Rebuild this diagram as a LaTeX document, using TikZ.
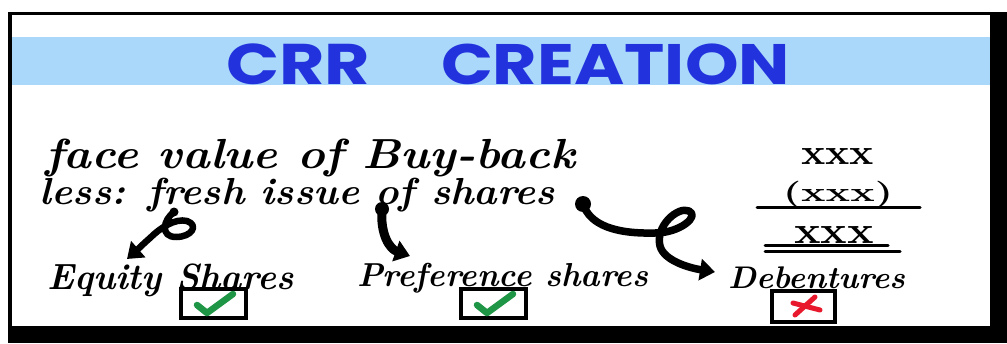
\documentclass[tikz,border=0pt]{standalone}
\usepackage{fontspec}
\newfontfamily\titlefont{Poppins}
\usetikzlibrary{arrows.meta}
\definecolor{band}{HTML}{A9D8FA}
\definecolor{ttl}{HTML}{2233DD}
\definecolor{okc}{HTML}{1E9645}
\definecolor{noc}{HTML}{E8192C}
\newcommand{\fitw}[3]{\resizebox*{#1}{#2}{#3}}
\tikzset{
  hand/.style={inner sep=0pt, outer sep=0pt, anchor=north west, font=\bfseries\itshape},
  nums/.style={inner sep=0pt, outer sep=0pt, anchor=north west, font=\bfseries\upshape},
  ttlnode/.style={inner sep=0pt, outer sep=0pt, anchor=north west, text=ttl, font=\titlefont\bfseries},
  arr/.style={line width=7.5pt, line cap=round, line join=round, -{Triangle[length=15pt,width=21pt]}},
  tickbox/.style={draw, line width=3.6pt, inner sep=0pt, minimum width=65pt, minimum height=29pt},
  okmark/.style={okc, line width=6.5pt, line cap=round, line join=round},
  nomark/.style={noc, line width=5pt, line cap=round},
  sumline/.style={line width=3pt, line cap=round}
}
\begin{document}
\begin{tikzpicture}[x=1pt,y=-1pt]
\useasboundingbox (0,0) rectangle (1007,343);
% frame
\fill[white] (0,0) rectangle (1007,343);
\fill[black] (990,12) rectangle (1007,343);
\fill[black] (8,326) rectangle (1007,343);
\draw[line width=3pt] (9,13) -- (995,13);
\draw[line width=3.5pt] (10,12) -- (10,330);
% title band
\fill[band] (12,37) rectangle (990,85);
\node[ttlnode] (t1) at (226,44) {\fitw{144pt}{41pt}{CRR}};
\node[ttlnode] (t2) at (441,44) {\fitw{349pt}{41pt}{CREATION}};
% text lines
\node[hand] (l1) at (45,139) {\fitw{530pt}{38pt}{face value of Buy-back}};
\node[hand] (l2) at (40,178) {\fitw{515pt}{34pt}{less: fresh issue of shares}};
% figures
\node[nums] (n1) at (801,148) {\fitw{73pt}{16pt}{xxx}};
\node[nums] (n2) at (783,181) {\fitw{110pt}{27pt}{(xxx)}};
\node[nums] (n3) at (794,226) {\fitw{80pt}{17pt}{xxx}};
\draw[sumline] (757,207) -- (920,207);
\draw[sumline] (765,245) -- (888,245);
\draw[sumline] (765,251) -- (900,251);
% targets
\node[hand] (eq) at (47,264) {\fitw{247pt}{33pt}{Equity Shares}};
\node[hand] (pr) at (357,263) {\fitw{291pt}{30pt}{Preference shares}};
\node[hand] (de) at (728,267) {\fitw{177pt}{22pt}{Debentures}};
% boxes
\node[tickbox] (b1) at (213.5,303.5) {};
\node[tickbox] (b2) at (493.5,303.5) {};
\node[tickbox, minimum width=63pt, minimum height=31pt] (b3) at (803.5,306.5) {};
\draw[okmark, shift={(b1.center)}] (-16.5,1.5) -- (-6.5,9.5) -- (19.5,-9.5);
\draw[okmark, shift={(b2.center)}] (-16.5,1.5) -- (-6.5,9.5) -- (19.5,-9.5);
\draw[nomark, shift={(b3.center)}] (11.5,-9.5) -- (-8.5,8.5);
\draw[nomark, shift={(b3.center)}] (-10.5,-3.5) -- (16.5,3.5);
% arrows
\coordinate (a1s) at (174,212);
\coordinate (a1e) at (127,259);
\coordinate (a2s) at (382,209);
\coordinate (a2e) at (410,256);
\coordinate (a3s) at (583,204);
\coordinate (a3e) at (715,272);
\fill (a1s) circle (4.5pt);
\draw[arr, line width=6.5pt] (a1s) .. controls (163,220) and (160,237) .. (176,237)
  .. controls (192,237) and (199,225) .. (187,221)
  .. controls (175,218) and (160,228) .. (150,238)
  .. controls (142,245) and (135,252) .. (a1e);
\fill (a2s) circle (7pt);
\draw[arr, line width=9pt] (a2s) .. controls (380,235) and (390,249) .. (a2e);
\fill (a3s) circle (8pt);
\draw[arr] (a3s) .. controls (590,225) and (615,234) .. (655,233)
  .. controls (680,233) and (700,216) .. (689,211)
  .. controls (678,206) and (655,226) .. (660,246)
  .. controls (664,261) and (690,268) .. (a3e);
\end{tikzpicture}
\end{document}
